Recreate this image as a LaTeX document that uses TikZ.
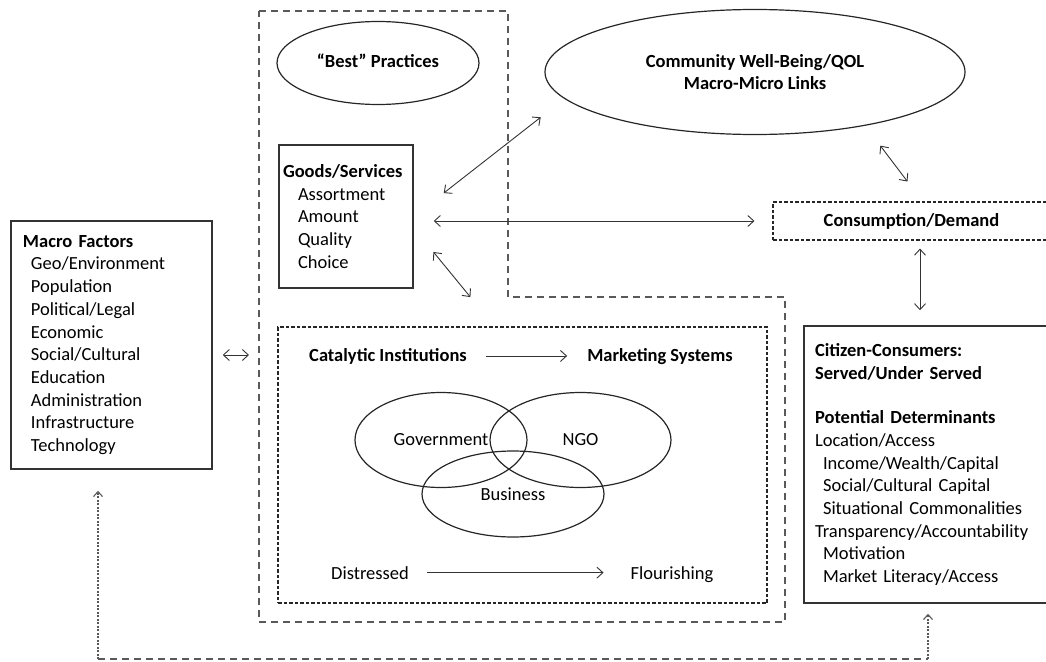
\documentclass[tikz,border=0pt]{standalone}
\usepackage{fontspec}
\setmainfont{Carlito}
\usetikzlibrary{positioning,shapes.geometric,arrows.meta}

\begin{document}
\begin{tikzpicture}[x=1pt,y=-1pt,font=\fontsize{18.5}{22.7}\selectfont,
    >={Straight Barb[length=6pt,width=11pt]},
    box/.style={draw=black!80,line width=1.5pt,rectangle,align=left,inner ysep=0pt},
    dbox/.style={draw=black!85,line width=1.1pt,rectangle,dash pattern=on 3.5pt off 2pt},
    oval/.style={draw=black!85,line width=1.2pt,ellipse,inner sep=0pt,align=center},
    lbl/.style={inner sep=0pt,anchor=base},
    dbl/.style={draw=black!80,line width=0.9pt,<->},
    one/.style={draw=black!80,line width=0.9pt,->},
    longdash/.style={draw=black!65,line width=1.2pt,dash pattern=on 7pt off 5pt},
    dotline/.style={draw=black!65,line width=1.1pt,dash pattern=on 2pt off 1.5pt}]
  \useasboundingbox (0,0) rectangle (1046,661);

  % outer frame
  \draw[longdash] (259,11) -- (508,11) -- (508,297) -- (785,297) -- (785,622) -- (259,622) -- cycle;
  \coordinate (frameW) at (259,355);

  \node[box,minimum width=201pt,minimum height=248pt,text width=177pt,inner xsep=12pt] (macro) at (111.5,345)
    {\textbf{Macro Factors}\\
     \hspace*{8pt}Geo/Environment\\
     \hspace*{8pt}Population\\
     \hspace*{8pt}Political/Legal\\
     \hspace*{8pt}Economic\\
     \hspace*{8pt}Social/Cultural\\
     \hspace*{8pt}Education\\
     \hspace*{8pt}Administration\\
     \hspace*{8pt}Infrastructure\\
     \hspace*{8pt}Technology};

  \node[oval,minimum width=202pt,minimum height=83pt] (best) at (378,63) {\raisebox{5pt}{\textbf{``Best'' Practices}}};
  \node[oval,minimum width=420pt,minimum height=125pt] (wellbeing) at (755,72)
    {\textbf{Community Well-Being/QOL}\\ \textbf{Macro-Micro Links}};

  \node[box,minimum width=134pt,minimum height=143pt,text width=126pt,inner xsep=4pt] (goods) at (346,216.5)
    {\textbf{Goods/Services}\\
     \hspace*{15pt}Assortment\\
     \hspace*{15pt}Amount\\
     \hspace*{15pt}Quality\\
     \hspace*{15pt}Choice};

  \node[dbox,minimum width=277pt,minimum height=38pt] (demand) at (911.5,221) {\textbf{Consumption/Demand}};

  \node[box,minimum width=246pt,minimum height=277pt,text width=224pt,inner xsep=11pt] (citizen) at (927,464.5)
    {\textbf{Citizen-Consumers:}\\
     \textbf{Served/Under Served}\\[22pt]
     \textbf{Potential Determinants}\\
     Location/Access\\
     \hspace*{8pt}Income/Wealth/Capital\\
     \hspace*{8pt}Social/Cultural Capital\\
     \hspace*{8pt}Situational Commonalities\\
     Transparency/Accountability\\
     \hspace*{8pt}Motivation\\
     \hspace*{8pt}Market Literacy/Access};

  \node[dbox,minimum width=489pt,minimum height=276pt] (catalytic) at (522.5,465) {};
  \node[lbl] (inst) at (388,361) {\textbf{Catalytic Institutions}};
  \node[lbl] (msys) at (660,361) {\textbf{Marketing Systems}};
  \node[oval,minimum width=172pt,minimum height=95pt] (gov) at (441,440) {Government};
  \node[oval,minimum width=181pt,minimum height=95pt] (ngo) at (580.5,440) {NGO};
  \node[oval,minimum width=182pt,minimum height=86pt] (bus) at (513,494) {Business};
  \node[lbl] (dist) at (370,579) {Distressed};
  \node[lbl] (flour) at (672,579) {Flourishing};

  \draw[one,shorten <=19pt,shorten >=20pt] (inst.east) -- (inst.east -| msys.west);
  \draw[one,shorten <=18pt,shorten >=27pt] (dist.east) -- (dist.east -| flour.west);

  \draw[dbl,shorten <=10pt,shorten >=10pt] (macro.east |- frameW) -- (frameW);
  \draw[dbl,shorten <=38pt,shorten >=30pt] (goods.east) -- (wellbeing.188);
  \draw[dbl,shorten <=20pt,shorten >=18pt] (goods.east |- demand.west) -- (demand.west);
  \draw[dbl,shorten <=31pt,shorten >=38pt] ([yshift=-11.5pt]goods.east) -- ([xshift=-28pt]catalytic.north);
  \draw[dbl,shorten <=25pt,shorten >=25pt] (wellbeing.-26) -- ([xshift=11pt]demand.north);
  \draw[dbl,shorten <=8pt,shorten >=15pt] ([xshift=8.5pt]demand.south) -- ([xshift=8.5pt]demand.south |- citizen.north);

  % feedback loop along the bottom
  \coordinate (lowL) at (98,659);
  \coordinate (lowR) at (928,659);
  \draw[longdash] (lowL) -- (lowR);
  \draw[dotline,-{Straight Barb[length=5pt,width=9pt]},shorten >=21pt] (lowL) -- (lowL |- macro.south);
  \draw[dotline,-{Straight Barb[length=5pt,width=9pt]},shorten >=10pt] (lowR) -- (lowR |- citizen.south);
\end{tikzpicture}
\end{document}
